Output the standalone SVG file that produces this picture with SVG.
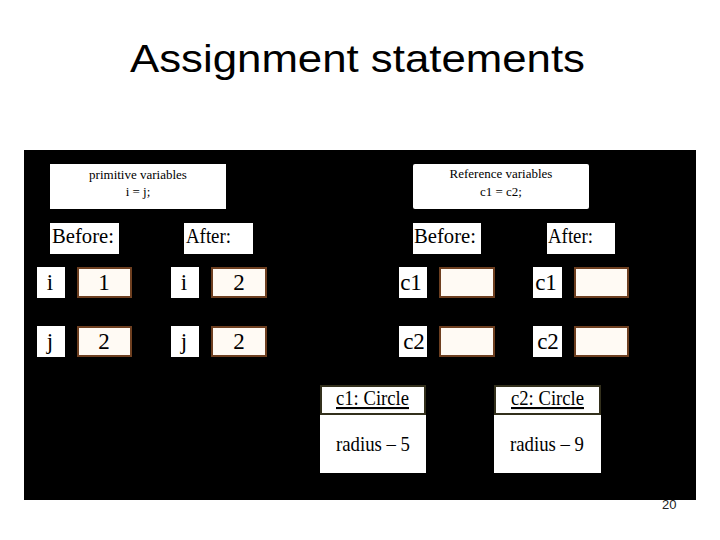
<svg xmlns="http://www.w3.org/2000/svg" width="720" height="540" viewBox="0 0 720 540">
<style>
.title{font-family:"Liberation Sans",Arial,sans-serif;font-size:38px;fill:#000}
.s{font-family:"Liberation Serif","Times New Roman",serif;fill:#000}
.cap{font-size:13px}
.hd{font-size:22px}
.lb{font-size:23px}
.ob{font-size:21px}
.wb{fill:#fff}
.val{fill:#fffaf4;stroke:#6e3f20;stroke-width:2}
.hdr{fill:#fff;stroke:#33301c;stroke-width:2}
.pg{font-family:"Liberation Sans",Arial,sans-serif;font-size:13px;fill:#222}
</style>
<rect width="720" height="540" fill="#fff"/>
<text class="title" x="130" y="72" textLength="455" lengthAdjust="spacingAndGlyphs">Assignment statements</text>
<rect x="24" y="150" width="672" height="350" fill="#000"/>

<g id="primitive-caption">
<rect class="wb" x="50" y="164" width="176" height="45"/>
<text class="s cap" x="138" y="179" text-anchor="middle">primitive variables</text>
<text class="s cap" x="138" y="196" text-anchor="middle">i = j;</text>
</g>
<g id="reference-caption">
<rect class="wb" x="413" y="164" width="176" height="45" rx="2"/>
<text class="s cap" x="501" y="178" text-anchor="middle">Reference variables</text>
<text class="s cap" x="501" y="196" text-anchor="middle">c1 = c2;</text>
</g>

<g id="before-left"><rect class="wb" x="50" y="223" width="69" height="31"/><text class="s hd" x="52" y="243" textLength="62" lengthAdjust="spacingAndGlyphs">Before:</text></g>
<g id="after-left"><rect class="wb" x="184" y="223" width="69" height="31"/><text class="s hd" x="186" y="243" textLength="45" lengthAdjust="spacingAndGlyphs">After:</text></g>
<g id="before-right"><rect class="wb" x="413" y="223" width="68" height="31"/><text class="s hd" x="414" y="243" textLength="62" lengthAdjust="spacingAndGlyphs">Before:</text></g>
<g id="after-right"><rect class="wb" x="547" y="223" width="68" height="31"/><text class="s hd" x="548" y="243" textLength="45" lengthAdjust="spacingAndGlyphs">After:</text></g>

<g id="i-before"><rect class="wb" x="37" y="267" width="28" height="31"/><text class="s lb" x="50" y="290" text-anchor="middle">i</text>
<rect class="val" x="78" y="268" width="53" height="29"/><text class="s lb" x="104" y="290" text-anchor="middle">1</text></g>
<g id="i-after"><rect class="wb" x="171" y="267" width="28" height="31"/><text class="s lb" x="184" y="290" text-anchor="middle">i</text>
<rect class="val" x="212" y="268" width="54" height="29"/><text class="s lb" x="239" y="290" text-anchor="middle">2</text></g>
<g id="j-before"><rect class="wb" x="37" y="326" width="28" height="31"/><text class="s lb" x="50" y="349" text-anchor="middle">j</text>
<rect class="val" x="78" y="327" width="53" height="29"/><text class="s lb" x="104" y="349" text-anchor="middle">2</text></g>
<g id="j-after"><rect class="wb" x="171" y="326" width="28" height="31"/><text class="s lb" x="184" y="349" text-anchor="middle">j</text>
<rect class="val" x="212" y="327" width="54" height="29"/><text class="s lb" x="239" y="349" text-anchor="middle">2</text></g>

<g id="c1-before"><rect class="wb" x="399" y="267" width="28" height="31"/><text class="s lb" x="411" y="290" text-anchor="middle">c1</text>
<rect class="val" x="440" y="268" width="54" height="29"/></g>
<g id="c1-after"><rect class="wb" x="533" y="267" width="29" height="31"/><text class="s lb" x="546" y="290" text-anchor="middle">c1</text>
<rect class="val" x="575" y="268" width="53" height="29"/></g>
<g id="c2-before"><rect class="wb" x="399" y="326" width="28" height="31"/><text class="s lb" x="414" y="349" text-anchor="middle">c2</text>
<rect class="val" x="440" y="327" width="54" height="29"/></g>
<g id="c2-after"><rect class="wb" x="533" y="326" width="29" height="31"/><text class="s lb" x="548" y="349" text-anchor="middle">c2</text>
<rect class="val" x="575" y="327" width="53" height="29"/></g>

<g id="obj-c1">
<rect class="wb" x="320" y="385" width="106" height="88"/>
<rect class="hdr" x="321" y="386" width="104" height="28"/>
<text class="s ob" x="336" y="405" textLength="73" lengthAdjust="spacingAndGlyphs" text-decoration="underline">c1: Circle</text>
<text class="s ob" x="336" y="451" textLength="74" lengthAdjust="spacingAndGlyphs">radius – 5</text>
</g>
<g id="obj-c2">
<rect class="wb" x="494" y="385" width="107" height="88"/>
<rect class="hdr" x="495" y="386" width="105" height="28"/>
<text class="s ob" x="511" y="405" textLength="73" lengthAdjust="spacingAndGlyphs" text-decoration="underline">c2: Circle</text>
<text class="s ob" x="510" y="451" textLength="74" lengthAdjust="spacingAndGlyphs">radius – 9</text>
</g>
<g id="connectors"></g>
<text class="pg" x="662" y="509">20</text>
</svg>
